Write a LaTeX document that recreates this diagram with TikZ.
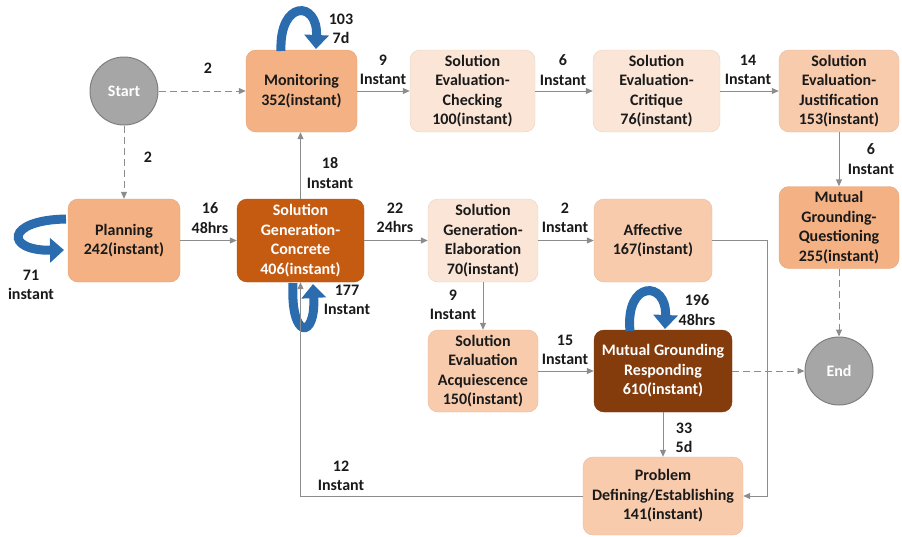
\documentclass[tikz,border=0pt]{standalone}
\usepackage{fontspec}
\setmainfont{Carlito}
\usetikzlibrary{arrows.meta}
\definecolor{lightor}{HTML}{FBE5D6}
\definecolor{midor}{HTML}{F8CBAD}
\definecolor{stror}{HTML}{F4B183}
\definecolor{darkor}{HTML}{C55A11}
\definecolor{brownor}{HTML}{843C0C}
\definecolor{circfill}{HTML}{A6A6A6}
\definecolor{circline}{HTML}{7F7F7F}
\definecolor{connc}{HTML}{8C8C8C}
\definecolor{loopc}{HTML}{2B6CAE}
\definecolor{txt}{HTML}{1A1A1A}
\tikzset{
  box/.style={rectangle, rounded corners=10pt, draw=#1!92!black, line width=0.4pt, fill=#1,
    align=center, inner sep=0pt, text=txt,
    font=\fontsize{16}{19.5}\selectfont\bfseries},
  circ/.style={circle, minimum size=68pt, inner sep=0pt, fill=circfill, draw=circline, line width=1pt,
    text=white, font=\fontsize{16}{19.5}\selectfont\bfseries},
  lbl/.style={align=center, inner sep=0pt, text=txt, font=\fontsize{16}{19.5}\selectfont\bfseries},
  conn/.style={draw=connc, line width=1pt, -{Triangle[length=7pt,width=6pt]}},
  dashline/.style={conn, dash pattern=on 7pt off 4pt},
  loopar/.style={draw=loopc, line width=9pt, -{Triangle[length=14pt,width=24pt]}}
}
\begin{document}
\begin{tikzpicture}[x=1pt,y=-1pt]
\useasboundingbox (0,0) rectangle (902,536);
% nodes
\node[circ] (start) at (124,91) {Start};
\node[circ] (end) at (839,371) {End};
\node[box=stror, minimum width=111pt, minimum height=82pt] (mon) at (301.5,91) {Monitoring\\352(instant)};
\node[box=lightor, minimum width=125pt, minimum height=82pt] (chk) at (472.5,91) {Solution\\Evaluation-\\Checking\\100(instant)};
\node[box=lightor, minimum width=127pt, minimum height=82pt] (cri) at (656.5,91) {Solution\\Evaluation-\\Critique\\76(instant)};
\node[box=midor, minimum width=120pt, minimum height=82pt] (jus) at (839,91) {Solution\\Evaluation-\\Justification\\153(instant)};
\node[box=stror, minimum width=120pt, minimum height=82pt] (mgq) at (839,227.5) {Mutual\\Grounding-\\Questioning\\255(instant)};
\node[box=stror, minimum width=112pt, minimum height=83pt] (plan) at (124,240.5) {Planning\\242(instant)};
\node[box=darkor, text=white, minimum width=127pt, minimum height=83pt] (sgc) at (300.5,240.5) {Solution\\Generation-\\Concrete\\406(instant)};
\node[box=lightor, minimum width=110pt, minimum height=83pt] (ela) at (483,240.5) {Solution\\Generation-\\Elaboration\\70(instant)};
\node[box=midor, minimum width=118pt, minimum height=83pt] (aff) at (653,240.5) {Affective\\167(instant)};
\node[box=midor, minimum width=110pt, minimum height=82pt] (acq) at (483,371) {Solution\\Evaluation\\Acquiescence\\150(instant)};
\node[box=brownor, text=white, minimum width=138pt, minimum height=82pt] (mgr) at (663,371) {Mutual Grounding\\Responding\\610(instant)};
\node[box=midor, minimum width=160pt, minimum height=78pt] (prob) at (663,496) {Problem\\Defining/Establishing\\141(instant)};
% self loops
\draw[loopar] (281,51) .. controls (279,0) and (318,0) .. (316,49);
\draw[loopar] (66,219) .. controls (5,220) and (5,251) .. (64,250);
\draw[loopar] (293,283) .. controls (290,340) and (316,340) .. (313,284);
\draw[loopar] (630,331) .. controls (625,280) and (667,280) .. (665,329);
% connectors
\draw[dashline] (start) -- (mon);
\draw[dashline] (start) -- (plan);
\draw[conn] (mon) -- (chk);
\draw[conn] (chk) -- (cri);
\draw[conn] (cri) -- (jus);
\draw[conn] (jus) -- (mgq);
\draw[dashline] (mgq) -- (end);
\draw[conn] (plan) -- (sgc);
\draw[conn] (sgc.north) -- (sgc.north |- mon.south);
\draw[conn] (sgc) -- (ela);
\draw[conn] (ela) -- (aff);
\draw[conn] (ela) -- (acq);
\draw[conn] (acq) -- (mgr);
\draw[dashline] (mgr) -- (end);
\draw[conn] (mgr) -- (prob);
\draw[conn] (aff.east) -- ++(55,0) |- (prob.east);
\draw[conn] (prob.west) -| (sgc.south);
% labels
\node[lbl] (l1) at (208,68) {2};
\node[lbl] (l2) at (148,157) {2};
\node[lbl] (l3) at (383,70) {9\\Instant};
\node[lbl] (l4) at (563,70) {6\\Instant};
\node[lbl] (l5) at (748,70) {14\\Instant};
\node[lbl] (l6) at (871,159) {6\\Instant};
\node[lbl] (l7) at (210,218) {16\\48hrs};
\node[lbl] (l8) at (330,173) {18\\Instant};
\node[lbl] (l9) at (395,218) {22\\24hrs};
\node[lbl] (l10) at (565,218) {2\\Instant};
\node[lbl] (l11) at (453,305) {9\\Instant};
\node[lbl] (l12) at (565,350) {15\\Instant};
\node[lbl] (l13) at (684,438) {33\\5d};
\node[lbl] (l14) at (341,476) {12\\Instant};
\node[lbl] (l15) at (341,29) {103\\7d};
\node[lbl] (l16) at (31,285) {71\\instant};
\node[lbl] (l17) at (347,300) {177\\Instant};
\node[lbl] (l18) at (697,310) {196\\48hrs};
\end{tikzpicture}
\end{document}
